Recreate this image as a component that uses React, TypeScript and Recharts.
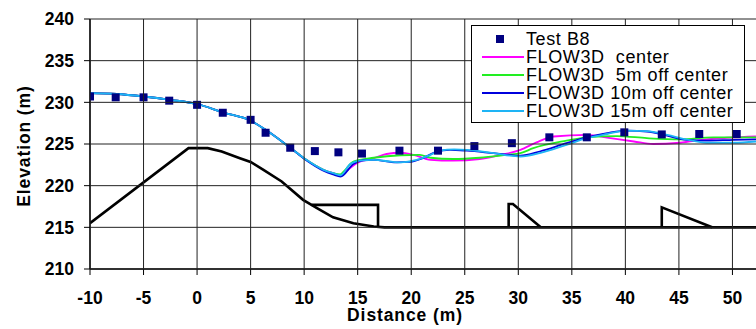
import React from 'react';
import { ComposedChart, Line, Scatter, XAxis, YAxis, Legend, Label } from 'recharts';

const X_MIN = -10;
const X_MAX = 52.2;
const Y_MIN = 210;
const Y_MAX = 240;
const xTicks = [-10, -5, 0, 5, 10, 15, 20, 25, 30, 35, 40, 45, 50];
const yTicks = [210, 215, 220, 225, 230, 235, 240];

const testB8 = [
  { x: -10, y: 230.7 }, { x: -7.6, y: 230.6 }, { x: -5.0, y: 230.6 }, { x: -2.6, y: 230.2 },
  { x: 0.0, y: 229.7 }, { x: 2.4, y: 228.75 }, { x: 5.0, y: 227.9 }, { x: 6.4, y: 226.35 },
  { x: 8.7, y: 224.55 }, { x: 11.0, y: 224.15 }, { x: 13.2, y: 224.0 }, { x: 15.4, y: 223.85 },
  { x: 18.9, y: 224.2 }, { x: 22.5, y: 224.2 }, { x: 25.9, y: 224.75 }, { x: 29.4, y: 225.1 },
  { x: 32.9, y: 225.8 }, { x: 36.4, y: 225.8 }, { x: 39.9, y: 226.4 }, { x: 43.4, y: 226.15 },
  { x: 46.9, y: 226.2 }, { x: 50.4, y: 226.2 },
];

const flowCenter = [
  { x: -10, y: 231.1 }, { x: -7.5, y: 231.0 }, { x: -5, y: 230.7 }, { x: -2.5, y: 230.3 },
  { x: 0, y: 229.8 }, { x: 2.4, y: 228.8 }, { x: 5, y: 227.8 }, { x: 6.4, y: 226.7 },
  { x: 8.7, y: 224.55 }, { x: 10.2, y: 223.1 }, { x: 11.8, y: 221.9 }, { x: 12.7, y: 221.5 },
  { x: 13.4, y: 221.25 }, { x: 13.8, y: 221.6 }, { x: 14.9, y: 222.7 }, { x: 16.5, y: 223.3 },
  { x: 17.7, y: 223.8 }, { x: 19.0, y: 223.95 }, { x: 20.2, y: 223.7 }, { x: 21.8, y: 223.1 },
  { x: 23.9, y: 223.0 }, { x: 26.4, y: 223.2 }, { x: 28.6, y: 223.75 }, { x: 30.2, y: 224.3 },
  { x: 31.7, y: 225.2 }, { x: 33.3, y: 225.9 }, { x: 36.4, y: 226.1 }, { x: 38.6, y: 225.7 },
  { x: 40.8, y: 225.3 }, { x: 42.6, y: 225.0 }, { x: 45.1, y: 225.15 }, { x: 47.6, y: 225.55 },
  { x: 52.2, y: 225.9 },
];

const flow5m = [
  { x: -10, y: 231.1 }, { x: -7.5, y: 231.0 }, { x: -5, y: 230.7 }, { x: -2.5, y: 230.3 },
  { x: 0, y: 229.8 }, { x: 2.4, y: 228.8 }, { x: 5, y: 227.8 }, { x: 6.4, y: 226.7 },
  { x: 8.7, y: 224.55 }, { x: 10.2, y: 223.1 }, { x: 11.8, y: 221.9 }, { x: 12.7, y: 221.5 },
  { x: 13.35, y: 221.35 }, { x: 13.7, y: 221.7 }, { x: 14.6, y: 222.9 }, { x: 16.5, y: 223.35 },
  { x: 19.0, y: 223.65 }, { x: 20.8, y: 223.7 }, { x: 21.8, y: 223.35 }, { x: 23.9, y: 223.2 },
  { x: 26.4, y: 223.35 }, { x: 28.9, y: 223.7 }, { x: 30.2, y: 223.9 }, { x: 31.4, y: 224.5 },
  { x: 34.5, y: 225.4 }, { x: 36.4, y: 225.8 }, { x: 39.2, y: 225.95 }, { x: 42.0, y: 225.7 },
  { x: 45.1, y: 225.55 }, { x: 48.2, y: 225.8 }, { x: 52.2, y: 225.8 },
];

const flow10m = [
  { x: -10, y: 231.1 }, { x: -7.5, y: 231.0 }, { x: -5, y: 230.7 }, { x: -2.5, y: 230.3 },
  { x: 0, y: 229.8 }, { x: 2.4, y: 228.8 }, { x: 5, y: 227.8 }, { x: 6.4, y: 226.7 },
  { x: 8.7, y: 224.55 }, { x: 10.2, y: 223.05 }, { x: 11.8, y: 221.8 }, { x: 12.7, y: 221.35 },
  { x: 13.4, y: 221.1 }, { x: 14.6, y: 222.6 }, { x: 15.5, y: 223.05 }, { x: 16.5, y: 223.1 },
  { x: 18.6, y: 222.8 }, { x: 19.9, y: 222.85 }, { x: 21.1, y: 223.3 }, { x: 22.4, y: 224.1 },
  { x: 23.6, y: 224.3 }, { x: 25.2, y: 224.2 }, { x: 27.7, y: 223.9 }, { x: 30.2, y: 223.6 },
  { x: 32.0, y: 224.1 }, { x: 34.5, y: 225.1 }, { x: 36.4, y: 225.8 }, { x: 38.3, y: 226.3 },
  { x: 40.1, y: 226.6 }, { x: 42.0, y: 226.5 }, { x: 43.9, y: 226.0 }, { x: 45.7, y: 225.5 },
  { x: 47.6, y: 225.4 }, { x: 50.1, y: 225.5 }, { x: 52.2, y: 225.55 },
];

const flow15m = [
  { x: -10, y: 231.1 }, { x: -7.5, y: 231.0 }, { x: -5, y: 230.7 }, { x: -2.5, y: 230.3 },
  { x: 0, y: 229.8 }, { x: 2.4, y: 228.8 }, { x: 5, y: 227.8 }, { x: 6.4, y: 226.7 },
  { x: 8.7, y: 224.55 }, { x: 10.2, y: 223.1 }, { x: 11.8, y: 221.9 }, { x: 12.7, y: 221.5 },
  { x: 13.4, y: 221.25 }, { x: 14.3, y: 222.6 }, { x: 15.2, y: 223.0 }, { x: 16.5, y: 223.1 },
  { x: 18.0, y: 222.9 }, { x: 19.0, y: 222.8 }, { x: 20.5, y: 223.1 }, { x: 21.8, y: 223.7 },
  { x: 22.7, y: 224.2 }, { x: 24.0, y: 224.35 }, { x: 25.2, y: 224.3 }, { x: 27.7, y: 223.9 },
  { x: 30.2, y: 223.5 }, { x: 32.0, y: 223.9 }, { x: 34.5, y: 224.9 }, { x: 36.4, y: 225.7 },
  { x: 38.3, y: 226.2 }, { x: 40.1, y: 226.6 }, { x: 42.0, y: 226.55 }, { x: 43.9, y: 226.1 },
  { x: 45.7, y: 225.55 }, { x: 47.6, y: 225.15 }, { x: 50.1, y: 225.15 }, { x: 52.2, y: 225.3 },
];

const bedProfile = [
  { x: -10, y: 215.5 }, { x: -0.8, y: 224.5 }, { x: 1.0, y: 224.5 }, { x: 2.3, y: 224.1 },
  { x: 4.0, y: 223.3 }, { x: 5.0, y: 222.85 }, { x: 6.2, y: 221.9 }, { x: 7.9, y: 220.5 },
  { x: 9.9, y: 218.3 }, { x: 11.2, y: 217.3 }, { x: 12.7, y: 216.2 }, { x: 14.6, y: 215.5 },
  { x: 16.5, y: 215.1 }, { x: 17.5, y: 215.0 }, { x: 52.2, y: 215.0 },
];
const block1 = [{ x: 10.7, y: 217.7 }, { x: 16.9, y: 217.7 }, { x: 16.9, y: 215.0 }];
const block2 = [{ x: 29.1, y: 215.0 }, { x: 29.1, y: 217.8 }, { x: 29.5, y: 217.8 }, { x: 32.1, y: 215.0 }];
const block3 = [{ x: 43.4, y: 215.0 }, { x: 43.4, y: 217.4 }, { x: 48.1, y: 215.0 }];

const legendItems = [
  { label: 'Test B8', color: '#000080', kind: 'square' },
  { label: 'FLOW3D  center', color: '#FF00FF', kind: 'line' },
  { label: 'FLOW3D  5m off center', color: '#22EE22', kind: 'line' },
  { label: 'FLOW3D 10m off center', color: '#0000DD', kind: 'line' },
  { label: 'FLOW3D 15m off center', color: '#1EB4F5', kind: 'line' },
];

const FONT = '"Liberation Sans", Arial, sans-serif';

// layout constants
const CHART_W = 756;
const CHART_H = 329;
const Y_AXIS_W = 90;
const X_AXIS_H = 60;
const TOP = 19;
const TICK_SIZE = 6;
const X_TICK_MARGIN = 17;
const Y_TICK_MARGIN = 10;
const PLOT_W = CHART_W - Y_AXIS_W;
const PLOT_H = CHART_H - TOP - X_AXIS_H;

const LegendBox = () => (
  <div
    style={{
      width: 274,
      height: 98,
      border: '1px solid #000',
      background: '#fff',
      boxSizing: 'border-box',
      paddingTop: 4,
      fontFamily: FONT,
      fontSize: 18,
      letterSpacing: 0.6,
      color: '#000',
    }}
  >
    {legendItems.map((it) => (
      <div key={it.label} style={{ display: 'flex', alignItems: 'center', height: 18 }}>
        <svg width={52} height={18} style={{ display: 'block', flex: 'none' }}>
          {it.kind === 'square' ? (
            <rect x={24} y={5} width={8} height={8} fill={it.color} />
          ) : (
            <line x1={10} y1={9} x2={52} y2={9} stroke={it.color} strokeWidth={2} />
          )}
        </svg>
        <span style={{ whiteSpace: 'pre', marginLeft: 2, lineHeight: '17px' }}>{it.label}</span>
      </div>
    ))}
  </div>
);

const tickTextStyle = { fontFamily: FONT, fontSize: 17.5, fontWeight: 'bold' };
const titleStyle = { fontFamily: FONT, fontSize: 17.5, fontWeight: 'bold', fill: '#000', letterSpacing: 0.9 };

// X tick: label + tick mark + vertical grid line at the tick's scale position
const XTick = (props) => {
  const { x, y, payload } = props;
  const axisY = y - TICK_SIZE - X_TICK_MARGIN;
  return (
    <g>
      <line x1={x} y1={axisY} x2={x} y2={axisY - PLOT_H} stroke="#222" strokeWidth={1} />
      <line x1={x} y1={axisY} x2={x} y2={axisY + TICK_SIZE} stroke="#000" strokeWidth={1} />
      <text x={x} y={y} dy="0.71em" textAnchor="middle" fill="#000" style={tickTextStyle}>
        {payload.value}
      </text>
    </g>
  );
};

// Y tick: label + tick mark + horizontal grid line at the tick's scale position
const YTick = (props) => {
  const { x, y, payload } = props;
  const axisX = x + TICK_SIZE + Y_TICK_MARGIN;
  return (
    <g>
      <line x1={axisX} y1={y} x2={axisX + PLOT_W} y2={y} stroke="#222" strokeWidth={1} />
      <line x1={axisX - TICK_SIZE} y1={y} x2={axisX} y2={y} stroke="#000" strokeWidth={1} />
      <text x={x} y={y} dy="0.355em" textAnchor="end" fill="#000" style={tickTextStyle}>
        {payload.value}
      </text>
    </g>
  );
};

export default function App() {
  return (
    <div style={{ position: 'absolute', left: 0, top: 0, width: CHART_W, height: CHART_H, background: '#fff' }}>
      <ComposedChart width={CHART_W} height={CHART_H} margin={{ top: TOP, right: 0, bottom: 0, left: 0 }}>
        <XAxis
          type="number"
          dataKey="x"
          domain={[X_MIN, X_MAX]}
          allowDataOverflow
          ticks={xTicks}
          interval={0}
          height={X_AXIS_H}
          tickSize={TICK_SIZE}
          tickMargin={X_TICK_MARGIN}
          tick={<XTick />}
          tickLine={false}
          stroke="#000"
          axisLine={{ stroke: '#000', strokeWidth: 1.5 }}
        >
          <Label value="Distance (m)" position="center" dx={-18} dy={16} style={titleStyle} />
        </XAxis>
        <YAxis
          type="number"
          dataKey="y"
          domain={[Y_MIN, Y_MAX]}
          allowDataOverflow
          ticks={yTicks}
          interval={0}
          width={Y_AXIS_W}
          tickSize={TICK_SIZE}
          tickMargin={Y_TICK_MARGIN}
          tick={<YTick />}
          tickLine={false}
          stroke="#000"
          axisLine={{ stroke: '#000', strokeWidth: 1.5 }}
        >
          <Label
            value="Elevation (m)"
            position="center"
            angle={-90}
            dx={-21}
            dy={2}
            style={{ ...titleStyle, textAnchor: 'middle' }}
          />
        </YAxis>
        <Legend
          layout="horizontal"
          verticalAlign="middle"
          align="center"
          wrapperStyle={{ left: 471, top: 25, width: 274, height: 98 }}
          content={() => <LegendBox />}
        />
        <Line data={bedProfile} dataKey="y" type="linear" stroke="#000" strokeWidth={2.6} dot={false} isAnimationActive={false} legendType="none" />
        <Line data={block1} dataKey="y" type="linear" stroke="#000" strokeWidth={2.6} dot={false} isAnimationActive={false} legendType="none" />
        <Line data={block2} dataKey="y" type="linear" stroke="#000" strokeWidth={2.6} dot={false} isAnimationActive={false} legendType="none" />
        <Line data={block3} dataKey="y" type="linear" stroke="#000" strokeWidth={2.6} dot={false} isAnimationActive={false} legendType="none" />
        <Line data={flowCenter} dataKey="y" name="FLOW3D  center" type="monotone" stroke="#FF00FF" strokeWidth={1.8} dot={false} isAnimationActive={false} />
        <Line data={flow5m} dataKey="y" name="FLOW3D  5m off center" type="monotone" stroke="#22EE22" strokeWidth={1.8} dot={false} isAnimationActive={false} />
        <Line data={flow10m} dataKey="y" name="FLOW3D 10m off center" type="monotone" stroke="#0000DD" strokeWidth={1.8} dot={false} isAnimationActive={false} />
        <Line data={flow15m} dataKey="y" name="FLOW3D 15m off center" type="monotone" stroke="#1EB4F5" strokeWidth={1.8} dot={false} isAnimationActive={false} />
        <Scatter data={testB8} dataKey="y" name="Test B8" shape="square" fill="#000080" isAnimationActive={false} />
      </ComposedChart>
    </div>
  );
}
